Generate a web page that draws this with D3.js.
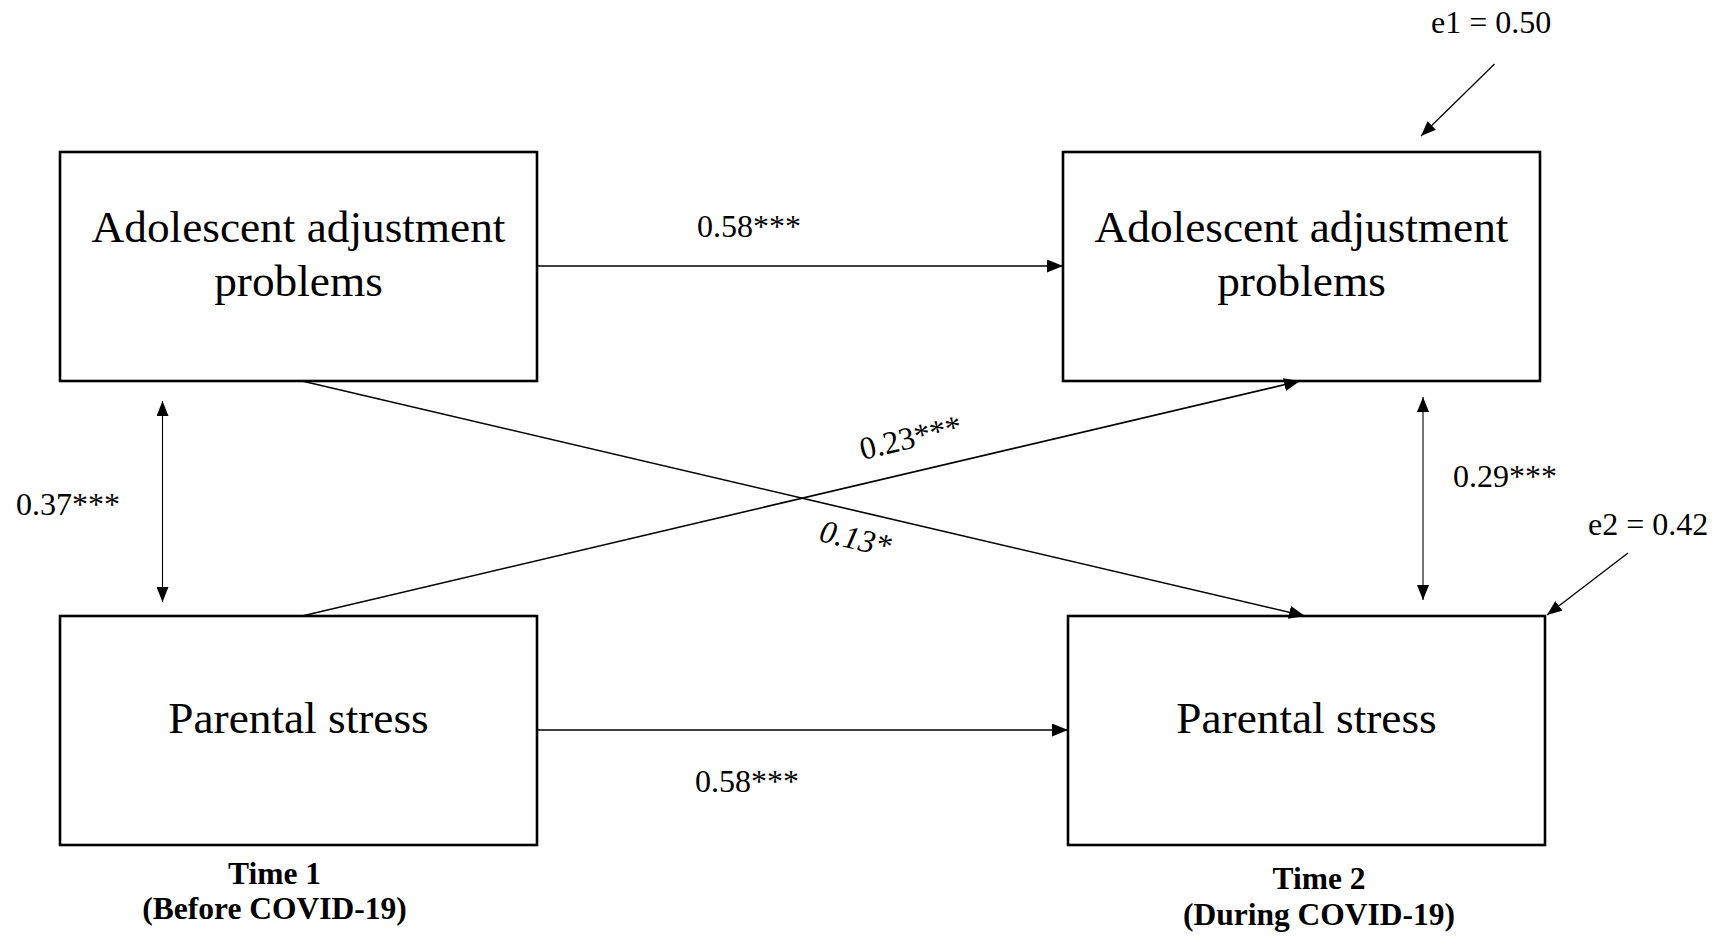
<!DOCTYPE html>
<html>
<head>
<meta charset="utf-8">
<script src="https://cdn.jsdelivr.net/npm/d3@7"></script>
<style>
  html, body { margin: 0; padding: 0; background: #fff; }
  svg { display: block; }
  text { font-family: "Liberation Serif", "Times New Roman", serif; fill: #000; }
</style>
</head>
<body>
<svg id="chart" width="1722" height="937"></svg>
<script>
// ---------- data ----------
const waves = ["Time 1", "Time 2"];
const waveNotes = ["(Before COVID-19)", "(During COVID-19)"];
const constructs = ["Adolescent adjustment problems", "Parental stress"];
const constructLines = [["Adolescent adjustment", "problems"], ["Parental stress"]];
const stabilityLabels = ["0.58***", "0.58***"];          // T1 -> T2 same construct
const crossLagFrom = [constructs[0], constructs[1]];
const crossLagTo = [constructs[1], constructs[0]];
const crossLagLabels = ["0.13*", "0.23***"];
const covarianceLabels = ["0.37***", "0.29***"];          // within wave
const residualLabels = ["e1 = 0.50", "e2 = 0.42"];        // T2 residuals

// ---------- layout ----------
const W = 1722, H = 937;
const boxW = 477, boxH = 229;
const x = d3.scaleOrdinal().domain(waves).range([60, 1063]);
const y = d3.scaleOrdinal().domain(constructs).range([152, 616]);
// slight horizontal offset of the lower Time 2 box in the original
const xShift = (w, c) => (w === waves[1] && c === constructs[1]) ? 5 : 0;
const bx = (w, c) => x(w) + xShift(w, c);
const by = c => y(c);

const svg = d3.select("#chart");

const defs = svg.append("defs");
function marker(id, len, wid) {
  defs.append("marker")
    .attr("id", id)
    .attr("viewBox", `0 ${-wid / 2} ${len} ${wid}`)
    .attr("refX", len).attr("refY", 0)
    .attr("markerWidth", len).attr("markerHeight", wid)
    .attr("markerUnits", "userSpaceOnUse")
    .attr("orient", "auto-start-reverse")
    .append("path")
    .attr("d", `M0,${-wid / 2}L${len},0L0,${wid / 2}Z`)
    .attr("fill", "#000");
}
marker("ah", 16, 13);
marker("ahs", 15, 12);

// boxes
const nodes = [];
waves.forEach(w => constructs.forEach((c, ci) => nodes.push({ w, c, ci })));

svg.selectAll("rect.node").data(nodes).join("rect")
  .attr("class", "node")
  .attr("x", d => bx(d.w, d.c)).attr("y", d => by(d.c))
  .attr("width", boxW).attr("height", boxH)
  .attr("fill", "none").attr("stroke", "#000").attr("stroke-width", 2.6);

const lineGap = 53.4, fs = 45.3;
nodes.forEach(d => {
  const lines = constructLines[d.ci];
  const cx = bx(d.w, d.c) + boxW / 2;
  const cy = by(d.c) + boxH / 2;
  const first = cy + 2.5 - (lines.length - 1) * lineGap / 2;
  svg.append("text")
    .attr("text-anchor", "middle")
    .attr("font-size", fs)
    .selectAll("tspan").data(lines).join("tspan")
    .attr("x", cx).attr("y", (l, i) => first + i * lineGap)
    .text(l => l);
});

const lblFs = 32;

// stability paths (horizontal)
constructs.forEach((c, i) => {
  const y0 = by(c) + boxH / 2 - 0.5;
  const x1 = bx(waves[0], c) + boxW;
  const x2 = bx(waves[1], c);
  svg.append("line")
    .attr("x1", x1).attr("y1", y0).attr("x2", x2).attr("y2", y0)
    .attr("stroke", "#000").attr("stroke-width", 1.6)
    .attr("marker-end", "url(#ah)");
  svg.append("text")
    .attr("x", x1 + (i === 0 ? 160 : 158))
    .attr("y", i === 0 ? y0 - 29 : y0 + 62)
    .attr("font-size", lblFs)
    .text(stabilityLabels[i]);
});

// cross-lagged paths
const crossGeo = [];
crossLagFrom.forEach((cf, i) => {
  const ct = crossLagTo[i];
  const fromTop = by(cf) < by(ct);
  const xs = x(waves[0]) + 242;
  const ys = fromTop ? by(cf) + boxH : by(cf);
  const xe = bx(waves[1], ct) + 237;
  const ye = fromTop ? by(ct) : by(ct) + boxH;
  crossGeo.push({ xs, ys, xe, ye });
  svg.append("line")
    .attr("x1", xs).attr("y1", ys).attr("x2", xe).attr("y2", ye)
    .attr("stroke", "#000").attr("stroke-width", 1.6)
    .attr("marker-end", "url(#ah)");
});
// labels of cross-lagged paths
{
  const g0 = crossGeo[0];
  const a0 = Math.atan2(g0.ye - g0.ys, g0.xe - g0.xs) * 180 / Math.PI;
  svg.append("text")
    .attr("transform", `translate(853,549) rotate(${a0})`)
    .attr("text-anchor", "middle")
    .attr("font-size", lblFs).attr("font-style", "italic")
    .text(crossLagLabels[0]);
  const g1 = crossGeo[1];
  const a1 = Math.atan2(g1.ye - g1.ys, g1.xe - g1.xs) * 180 / Math.PI;
  svg.append("text")
    .attr("transform", `translate(913,448) rotate(${a1})`)
    .attr("text-anchor", "middle")
    .attr("font-size", lblFs)
    .text(crossLagLabels[1]);
}

// within-wave covariances (double-headed)
waves.forEach((w, i) => {
  const xc = i === 0 ? x(w) + 102.5 : x(w) + 360;
  const y1 = by(constructs[0]) + boxH + (i === 0 ? 20 : 16);
  const y2 = by(constructs[1]) - (i === 0 ? 14 : 16);
  svg.append("line")
    .attr("x1", xc).attr("y1", y1).attr("x2", xc).attr("y2", y2)
    .attr("stroke", "#000").attr("stroke-width", 1.1)
    .attr("marker-start", "url(#ahs)")
    .attr("marker-end", "url(#ahs)");
  svg.append("text")
    .attr("x", i === 0 ? 16 : xc + 30)
    .attr("y", i === 0 ? 515 : 487)
    .attr("font-size", lblFs)
    .text(covarianceLabels[i]);
});

// residuals
const resGeo = [
  { c: constructs[0], sx: 1494.5, sy: 64, ex: 1421, ey: 136, tx: 1431, ty: 33 },
  { c: constructs[1], sx: 1628, sy: 553, ex: 1547, ey: 615, tx: 1588, ty: 535 }
];
resGeo.forEach((g, i) => {
  svg.append("line")
    .attr("x1", g.sx).attr("y1", g.sy).attr("x2", g.ex).attr("y2", g.ey)
    .attr("stroke", "#000").attr("stroke-width", 1.3)
    .attr("marker-end", "url(#ahs)");
  svg.append("text")
    .attr("x", g.tx).attr("y", g.ty)
    .attr("font-size", lblFs)
    .text(residualLabels[i]);
});

// wave labels
const waveGeo = [
  { cx: 274.5, y1: 884, y2: 919 },
  { cx: 1319, y1: 889, y2: 925 }
];
waves.forEach((w, i) => {
  svg.append("text")
    .attr("text-anchor", "middle")
    .attr("font-size", 31.5).attr("font-weight", "bold")
    .attr("x", waveGeo[i].cx).attr("y", waveGeo[i].y1).text(w);
  svg.append("text")
    .attr("text-anchor", "middle")
    .attr("font-size", 31.5).attr("font-weight", "bold")
    .attr("x", waveGeo[i].cx).attr("y", waveGeo[i].y2).text(waveNotes[i]);
});
</script>
</body>
</html>
